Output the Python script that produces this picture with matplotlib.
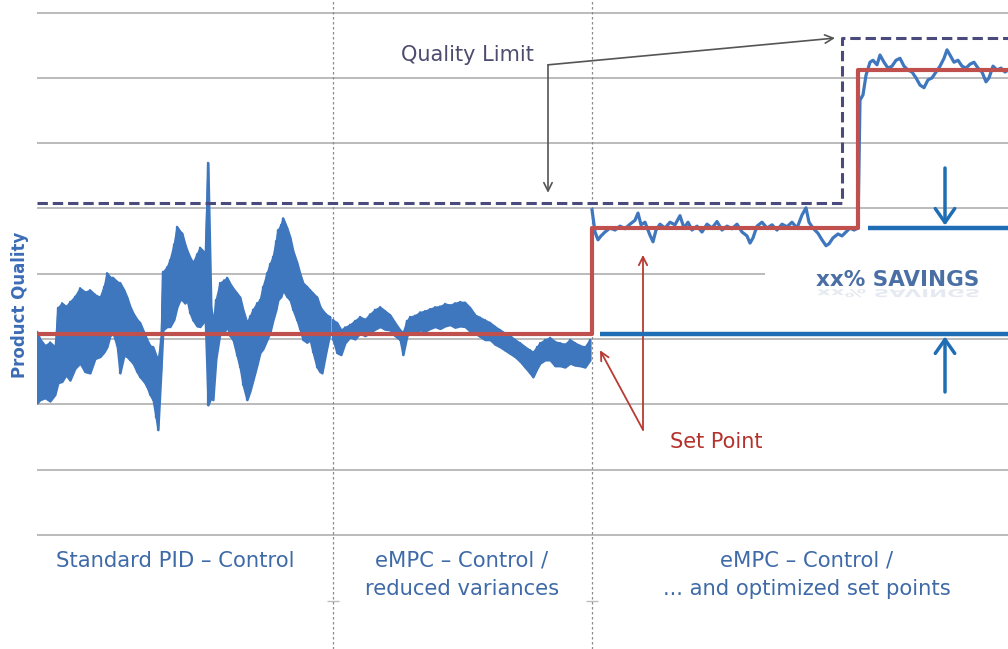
import numpy as np
import matplotlib
matplotlib.use('Agg')
import matplotlib.pyplot as plt
import matplotlib.transforms as mtransforms
from matplotlib.textpath import TextPath
from matplotlib.patches import PathPatch
from matplotlib.font_manager import FontProperties

# quality grid and phase boundaries (sample index)
grid_q = [0, 10, 20, 30, 40, 50, 60, 70, 80]
phase_edges = [296, 555]

# set point and quality limit, both step changes
setpoint_t = [0, 555, 821, 971]
setpoint_q = [30.8, 47.0, 71.2, 71.2]
limit_t = [0, 805, 971]
limit_q = [50.8, 76.1, 76.1]

# standard PID phase: noisy band, upper / lower excursions
pid_t = [0, 3, 8, 13, 18, 21, 25, 29, 33, 38, 43, 48, 53, 58, 63, 67, 70, 73, 76, 80,
         83, 87, 90, 93, 96, 100, 103, 107, 110, 113, 116, 119, 121, 124, 126, 130, 133, 137, 140, 143,
         145, 148, 150, 153, 156, 160, 163, 166, 168, 171, 174, 176, 179, 183, 187, 190, 193, 196, 200, 203,
         206, 210, 213, 216, 220, 223, 226, 230, 233, 236, 239, 241, 244, 246, 250, 253, 256, 260, 263, 266,
         270, 273, 276, 280, 283, 285, 289, 293]
pid_hi = [31.1, 30.0, 29.0, 29.5, 28.8, 34.8, 35.5, 35.0, 35.7, 36.5, 37.8, 37.2, 37.5, 36.8, 36.4, 38.0, 40.1, 39.5, 39.4, 38.8,
          38.6, 37.5, 36.4, 35.0, 34.0, 33.0, 32.5, 31.0, 29.9, 29.0, 28.8, 27.5, 26.8, 30.0, 40.3, 41.0, 42.1, 44.5, 47.2, 46.5,
          46.2, 44.5, 43.6, 42.5, 41.7, 43.0, 44.0, 43.5, 42.6, 57.0, 35.0, 32.5, 36.0, 38.6, 39.0, 39.4, 38.5, 37.8, 37.0, 36.4,
          34.5, 32.5, 33.5, 34.5, 35.5, 36.0, 38.0, 40.1, 41.5, 42.6, 45.0, 46.7, 47.5, 48.5, 47.0, 45.6, 43.5, 41.7, 40.0, 38.6,
          38.0, 37.5, 37.0, 36.4, 35.0, 34.5, 33.8, 33.4]
pid_lo = [20.2, 20.7, 21.0, 20.5, 21.5, 23.3, 23.5, 24.5, 23.7, 25.5, 26.3, 25.0, 24.8, 27.0, 27.3, 28.0, 28.8, 30.5, 30.9, 29.0,
          24.8, 27.5, 27.3, 26.8, 26.3, 25.0, 24.2, 23.5, 22.7, 21.5, 20.7, 18.0, 16.1, 25.0, 31.4, 31.9, 31.9, 33.0, 34.9, 36.0,
          36.0, 35.5, 36.0, 34.0, 32.9, 32.0, 31.9, 32.5, 33.4, 19.9, 21.0, 20.7, 27.0, 30.9, 31.0, 31.9, 30.5, 29.9, 27.5, 25.7,
          23.0, 20.7, 22.0, 23.7, 26.0, 27.9, 28.5, 29.9, 31.0, 32.9, 34.5, 36.0, 36.5, 37.5, 36.5, 36.0, 34.5, 32.9, 31.5, 29.9,
          29.5, 29.9, 28.0, 25.7, 25.0, 24.8, 28.0, 30.9]

# eMPC phase with reduced variance
mpc_t = [296, 300, 304, 308, 313, 318, 323, 328, 333, 338, 343, 348, 353, 358, 363, 366, 370, 373, 378, 383,
         388, 393, 398, 403, 408, 413, 418, 423, 428, 433, 438, 443, 448, 453, 458, 463, 468, 473, 478, 483,
         488, 493, 496, 500, 503, 508, 513, 518, 523, 528, 533, 538, 543, 548, 553]
mpc_hi = [32.9, 32.5, 31.4, 31.8, 32.2, 32.8, 33.4, 33.0, 33.8, 34.5, 34.9, 34.3, 33.7, 32.5, 31.4, 31.0, 32.8, 33.4, 33.6, 34.1,
          34.3, 34.6, 34.9, 35.0, 35.4, 35.2, 35.5, 35.7, 35.6, 34.8, 33.7, 33.3, 32.9, 32.5, 31.9, 31.4, 30.9, 30.5, 29.9, 29.4,
          28.8, 28.3, 28.0, 28.8, 29.4, 29.9, 30.2, 29.6, 29.4, 29.2, 29.9, 29.4, 29.0, 28.8, 29.9]
mpc_lo = [29.9, 27.9, 27.6, 29.4, 30.3, 30.0, 30.9, 30.5, 31.0, 31.5, 31.9, 31.5, 31.4, 30.5, 29.9, 27.6, 30.5, 31.1, 30.8, 31.4,
          31.2, 31.6, 31.9, 31.6, 32.0, 32.2, 31.8, 32.0, 31.9, 31.2, 30.9, 30.4, 29.9, 29.9, 29.2, 28.8, 28.3, 27.8, 27.3, 26.6,
          25.7, 24.8, 24.2, 25.5, 26.3, 26.8, 26.8, 25.9, 25.9, 25.7, 26.3, 26.0, 25.9, 25.7, 26.8]

# eMPC phase with optimized set points
opt_t = [555, 558, 561, 564, 568, 573, 578, 583, 588, 593, 598, 601, 604, 608, 613, 616, 619, 623, 628, 633,
         638, 643, 647, 651, 655, 660, 665, 670, 675, 680, 685, 690, 695, 700, 705, 710, 713, 716, 720, 725,
         730, 735, 740, 745, 750, 755, 760, 765, 769, 772, 776, 781, 785, 789, 792, 796, 801, 805, 809, 813,
         817, 821, 823, 826, 829, 833, 836, 840, 843, 847, 851, 855, 859, 863, 867, 871, 875, 879, 883, 887,
         891, 895, 899, 903, 907, 910, 913, 917, 921, 925, 929, 933, 937, 941, 945, 949, 952, 956, 960, 964,
         968, 971]
opt_q = [49.8, 46.4, 45.2, 45.8, 46.4, 47.0, 46.7, 47.3, 46.9, 47.6, 48.2, 49.3, 47.5, 47.9, 45.9, 44.9, 46.7, 47.6, 47.0, 47.9,
         47.5, 48.9, 47.0, 47.9, 46.7, 47.3, 46.4, 47.6, 47.0, 48.0, 46.7, 47.3, 46.9, 47.6, 46.4, 45.8, 44.7, 45.5, 47.3, 47.9,
         47.0, 47.5, 46.7, 47.6, 47.2, 47.9, 47.0, 49.0, 50.1, 47.9, 47.0, 46.2, 45.2, 44.3, 44.6, 45.5, 46.1, 45.8, 46.4, 47.0,
         46.7, 47.0, 66.6, 67.4, 70.4, 72.4, 72.7, 72.0, 73.5, 72.4, 71.5, 71.8, 72.7, 73.0, 71.8, 71.2, 70.9, 70.0, 68.9, 68.5,
         69.7, 70.0, 70.9, 71.8, 73.0, 74.3, 73.5, 72.4, 72.7, 71.8, 71.5, 72.1, 72.4, 71.5, 70.9, 69.4, 70.0, 71.8, 71.2, 71.5,
         70.9, 71.2]

phase_labels = ['Standard PID \u2013 Control',
                'eMPC \u2013 Control /\nreduced variances',
                'eMPC \u2013 Control /\n... and optimized set points']
phase_label_t = [138, 425, 770]

blue = '#3f77bf'
red = '#c0504d'
sav_blue = '#1f6db4'
label_blue = '#3f6aa8'

fig = plt.figure(figsize=(10.08, 6.49), dpi=100)
ax = fig.add_axes([37 / 1008, 0, 1 - 37 / 1008, 1])
ax.set_xlim(0, 971)
ax.set_ylim(-17.46, 81.93)
ax.set_axis_off()

grid_end = [971] * len(grid_q)
grid_end[4] = 728  # stops short of the savings label
for q, end in zip(grid_q, grid_end):
    ax.hlines(q, 0, end, color='#a8a8a8', lw=1.1, zorder=1)

for x in phase_edges:
    ax.axvline(x, color='#8a8a8a', lw=0.9, ls=(0, (2, 2)), zorder=1)
ax.plot(phase_edges, [-10.1] * 2, ls='none', marker='_', ms=9, mew=1, color='#bdbdbd')

# noisy bands: solid body plus the jagged trace on top
for t, hi, lo in [(pid_t, pid_hi, pid_lo), (mpc_t, mpc_hi, mpc_lo)]:
    ax.fill_between(t, lo, hi, facecolor=blue, edgecolor=blue, lw=1.5, zorder=3)
    tt = np.repeat(t, 2)
    qq = np.column_stack([hi, lo]).ravel()
    ax.plot(tt, qq, color=blue, lw=1.6, zorder=3)
ax.plot(opt_t, opt_q, color=blue, lw=2.3, zorder=3)

ax.plot(setpoint_t, setpoint_q, drawstyle='steps-post', color=red, lw=3, zorder=4)
ax.plot(limit_t, limit_q, drawstyle='steps-post', color='#4b4a7c', lw=2.2,
        ls=(0, (3.4, 1.6)), zorder=5)

# savings between old and new set point
ax.hlines(setpoint_q[1], 831, 971, color=sav_blue, lw=3.2, zorder=4)
ax.hlines(setpoint_q[0], 563, 971, color=sav_blue, lw=3.2, zorder=4)
sav_arrow = dict(arrowstyle='->,head_length=0.5,head_width=0.35', color=sav_blue,
                 lw=2.5, mutation_scale=20, shrinkA=0, shrinkB=0)
ax.annotate('', xy=(908, setpoint_q[1] + 0.4), xytext=(908, 56.2), arrowprops=sav_arrow)
ax.annotate('', xy=(908, setpoint_q[0] - 0.4), xytext=(908, 21.9), arrowprops=sav_arrow)

sav_color = '#4a6fa5'
ax.text(861, 38.1, 'xx% SAVINGS', ha='center', va='baseline', fontsize=15.5,
        fontweight='bold', color=sav_color, zorder=6)

# faint mirrored copy under the savings label
fp = FontProperties(family='DejaVu Sans', weight='bold')
tp = TextPath((0, 0), 'xx% SAVINGS', size=15.5, prop=fp)
bb = tp.get_extents()
ax_x, ax_y = ax.transData.transform((861, 38.1))
k = fig.dpi / 72
tr = (mtransforms.Affine2D().translate(-(bb.x0 + bb.x1) / 2, 0)
      .scale(k, -0.5 * k).translate(ax_x, ax_y - 3))
fig.add_artist(PathPatch(tp, transform=tr, facecolor='#8a9cc0', lw=0, alpha=0.22))

# quality limit annotation
ax.text(430, 73.5, 'Quality Limit', ha='center', va='center', fontsize=15, color='#4d4b6e')
ql_arrow = dict(arrowstyle='->', color='#555555', lw=1.2, mutation_scale=15, shrinkA=0, shrinkB=0)
ax.annotate('', xy=(511, 52.4), xytext=(511, 72.0), arrowprops=ql_arrow)
ax.annotate('', xy=(798, 76.1), xytext=(511, 72.0), arrowprops=ql_arrow)

# set point annotation
ax.text(679, 14.2, 'Set Point', ha='center', va='center', fontsize=15, color='#b5322c')
sp_arrow = dict(arrowstyle='->', color='#b83a32', lw=1.3, mutation_scale=15, shrinkA=0, shrinkB=0)
ax.annotate('', xy=(563, 28.3), xytext=(606, 16.1), arrowprops=sp_arrow)
ax.annotate('', xy=(606, 42.9), xytext=(606, 16.1), arrowprops=sp_arrow)

for lbl, t in zip(phase_labels, phase_label_t):
    ax.text(t, -2.4, lbl, ha='center', va='top', fontsize=15.2, color=label_blue,
            linespacing=1.55)

fig.text(20 / 1008, 1 - 305 / 649, 'Product Quality', rotation=90, ha='center', va='center',
         fontsize=12, fontweight='bold', color='#3b6cb4')

fig.savefig('out.png', dpi=100)
